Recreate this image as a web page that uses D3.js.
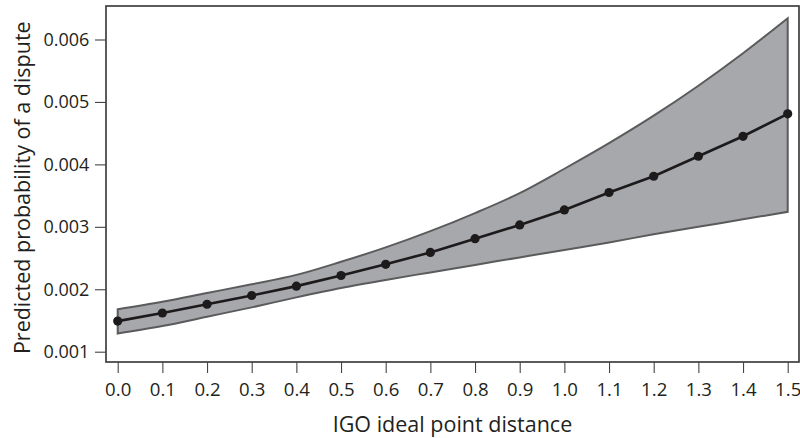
<!DOCTYPE html>
<html>
<head>
<meta charset="utf-8">
<script src="https://cdn.jsdelivr.net/npm/d3@7/dist/d3.min.js"></script>
<style>
  html, body { margin: 0; padding: 0; background: #fff; }
  svg { display: block; }
  text { font-family: "Open Sans", "Noto Sans", sans-serif; fill: #231f20; }
</style>
</head>
<body>
<svg id="chart" width="800" height="438"></svg>
<script>
// IGO ideal point distance (x) and predicted dispute probability with 95% band
const distance = [0.0, 0.1, 0.2, 0.3, 0.4, 0.5, 0.6, 0.7, 0.8, 0.9, 1.0, 1.1, 1.2, 1.3, 1.4, 1.5];
const predicted = [0.00149, 0.00162, 0.00176, 0.00190, 0.00205, 0.00222, 0.00240, 0.00259,
                   0.00281, 0.00303, 0.00327, 0.00355, 0.00381, 0.00413, 0.00445, 0.00481];
const upper = [0.00168, 0.00180, 0.00194, 0.00208, 0.00223, 0.00244, 0.00267, 0.00293,
               0.00322, 0.00354, 0.00393, 0.00434, 0.00478, 0.00526, 0.00578, 0.00634];
const lower = [0.00129, 0.00141, 0.00156, 0.00171, 0.00187, 0.00202, 0.00215, 0.00227,
               0.00239, 0.00251, 0.00263, 0.00275, 0.00288, 0.00300, 0.00312, 0.00324];
const xTicks = [0.0, 0.1, 0.2, 0.3, 0.4, 0.5, 0.6, 0.7, 0.8, 0.9, 1.0, 1.1, 1.2, 1.3, 1.4, 1.5];
const yTicks = [0.001, 0.002, 0.003, 0.004, 0.005, 0.006];

const svg = d3.select("#chart");
const frame = { left: 106, top: 6, right: 799, bottom: 362 };

const x = d3.scaleLinear().domain([0, 1.5]).range([117.7, 787.7]);
const y = d3.scaleLinear().domain([0.001, 0.006]).range([351.7, 39.5]);

const rows = distance.map((d, i) => ({ x: d, p: predicted[i], hi: upper[i], lo: lower[i] }));

// confidence band (smoothed edges)
const band = d3.area()
  .curve(d3.curveMonotoneX)
  .x(d => x(d.x))
  .y0(d => y(d.lo))
  .y1(d => y(d.hi));
svg.append("path")
  .datum(rows)
  .attr("d", band)
  .attr("fill", "#a7a8ab")
  .attr("stroke", "#5b5b5d")
  .attr("stroke-width", 2)
  .attr("stroke-linejoin", "miter");

// predicted probability line and points
const line = d3.line().x(d => x(d.x)).y(d => y(d.p));
svg.append("path")
  .datum(rows)
  .attr("d", line)
  .attr("fill", "none")
  .attr("stroke", "#1d1a1b")
  .attr("stroke-width", 2.6);
svg.append("g").selectAll("circle")
  .data(rows)
  .join("circle")
  .attr("cx", d => x(d.x))
  .attr("cy", d => y(d.p))
  .attr("r", 4.6)
  .attr("fill", "#1d1a1b");

// plot frame
svg.append("rect")
  .attr("x", frame.left)
  .attr("y", frame.top)
  .attr("width", frame.right - frame.left)
  .attr("height", frame.bottom - frame.top)
  .attr("fill", "none")
  .attr("stroke", "#333")
  .attr("stroke-width", 1.6);

// axes
const xAxis = svg.append("g")
  .attr("transform", `translate(0,${frame.bottom})`)
  .call(d3.axisBottom(x).tickValues(xTicks).tickFormat(d3.format(".1f")).tickSize(11));
const yAxis = svg.append("g")
  .attr("transform", `translate(${frame.left},0)`)
  .call(d3.axisLeft(y).tickValues(yTicks).tickFormat(d3.format(".3f")).tickSize(11).tickPadding(5.7));

[xAxis, yAxis].forEach(g => {
  g.select(".domain").remove();
  g.selectAll(".tick line").attr("stroke", "#444").attr("stroke-width", 1.1);
  g.selectAll(".tick text")
    .attr("font-family", "'Open Sans', sans-serif")
    .attr("fill", "#231f20");
});
xAxis.selectAll(".tick text").attr("font-size", 18.6).attr("dy", 0).attr("y", 34);
yAxis.selectAll(".tick text").attr("font-size", 18);

// axis titles
svg.append("text")
  .attr("x", (frame.left + frame.right) / 2)
  .attr("y", 431.5)
  .attr("text-anchor", "middle")
  .attr("font-size", 21.5)
  .text("IGO ideal point distance");
svg.append("text")
  .attr("transform", `translate(29.5,187.7) rotate(-90)`)
  .attr("text-anchor", "middle")
  .attr("font-size", 21.5)
  .text("Predicted probability of a dispute");
</script>
</body>
</html>
